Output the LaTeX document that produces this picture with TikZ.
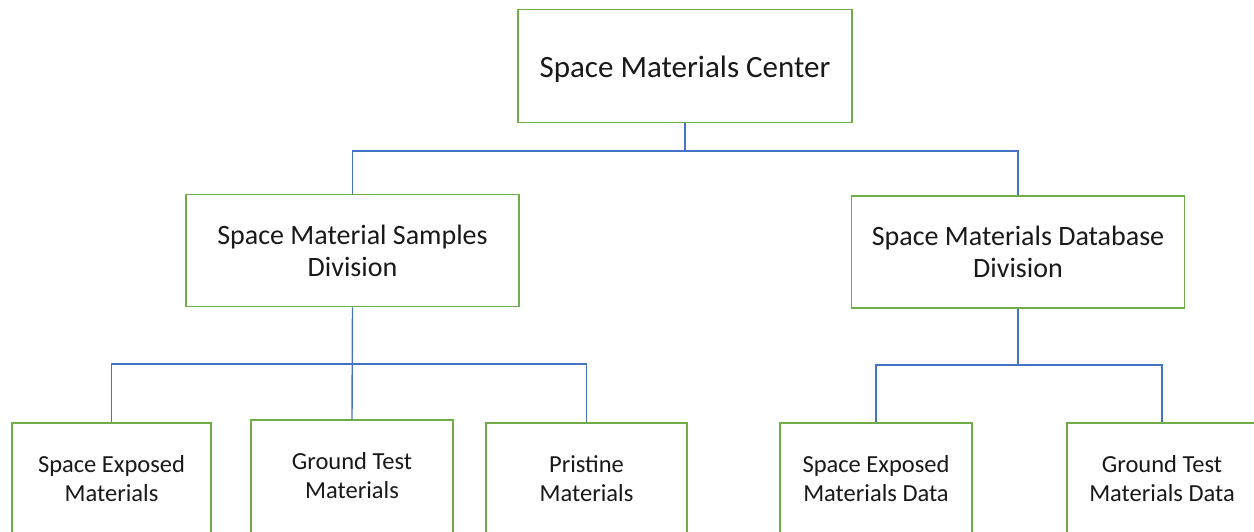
\documentclass[tikz,border=0pt]{standalone}
\usepackage{fontspec}
\setmainfont{Carlito}
\definecolor{boxgreen}{HTML}{70AD47}
\definecolor{linkblue}{HTML}{4472C4}
\begin{document}
\begin{tikzpicture}[x=1pt,y=-1pt,
  unit/.style={draw=boxgreen,line width=1.5pt,fill=white,inner sep=0pt,align=center,text=black!90},
  toplevel/.style={unit,minimum width=334pt,minimum height=113pt,font=\fontsize{31}{37}\selectfont},
  division/.style={unit,minimum width=333pt,minimum height=112pt,font=\fontsize{28}{32}\selectfont},
  group/.style={unit,minimum height=112pt,font=\fontsize{24.5}{29}\selectfont},
  link/.style={draw=linkblue,line width=1.4pt}]
\useasboundingbox (0,0) rectangle (1254,531);

% organisation units
\node[toplevel] (smc) at (685,66) {\raisebox{-3pt}[\height][\depth]{Space Materials Center}};
\node[division] (samples) at (352.5,250.5) {Space Material Samples\\Division};
\node[division] (database) at (1018,252) {Space Materials Database\\Division};
\node[group,minimum width=199pt] (sem) at (111.5,479) {Space Exposed\\Materials};
\node[group,minimum width=202pt,minimum height=118pt] (gtm) at (352,479) {\raisebox{1pt}[\height][\depth]{\begin{tabular}{@{}c@{}}Ground Test\\Materials\end{tabular}}};
\node[group,minimum width=201pt] (pm) at (586.5,479) {Pristine\\Materials};
\node[group,minimum width=192pt] (semd) at (876,479) {Space Exposed\\Materials Data};
\node[group,minimum width=190pt] (gtmd) at (1162,479) {Ground Test\\Materials Data};

% bus junctions
\coordinate (j0) at (685,151);
\coordinate (j1) at (352.5,364);
\coordinate (j2) at (1018,365);

% connectors
\draw[link] (smc.south) -- (j0);
\draw[link] (samples.north) |- (j0) -| (database.north);
\draw[link] (samples.south) -- (gtm.north);
\draw[link] (sem.north) |- (j1) -| (pm.north);
\draw[link] (database.south) -- (j2);
\draw[link] (semd.north) |- (j2) -| (gtmd.north);
\end{tikzpicture}
\end{document}
